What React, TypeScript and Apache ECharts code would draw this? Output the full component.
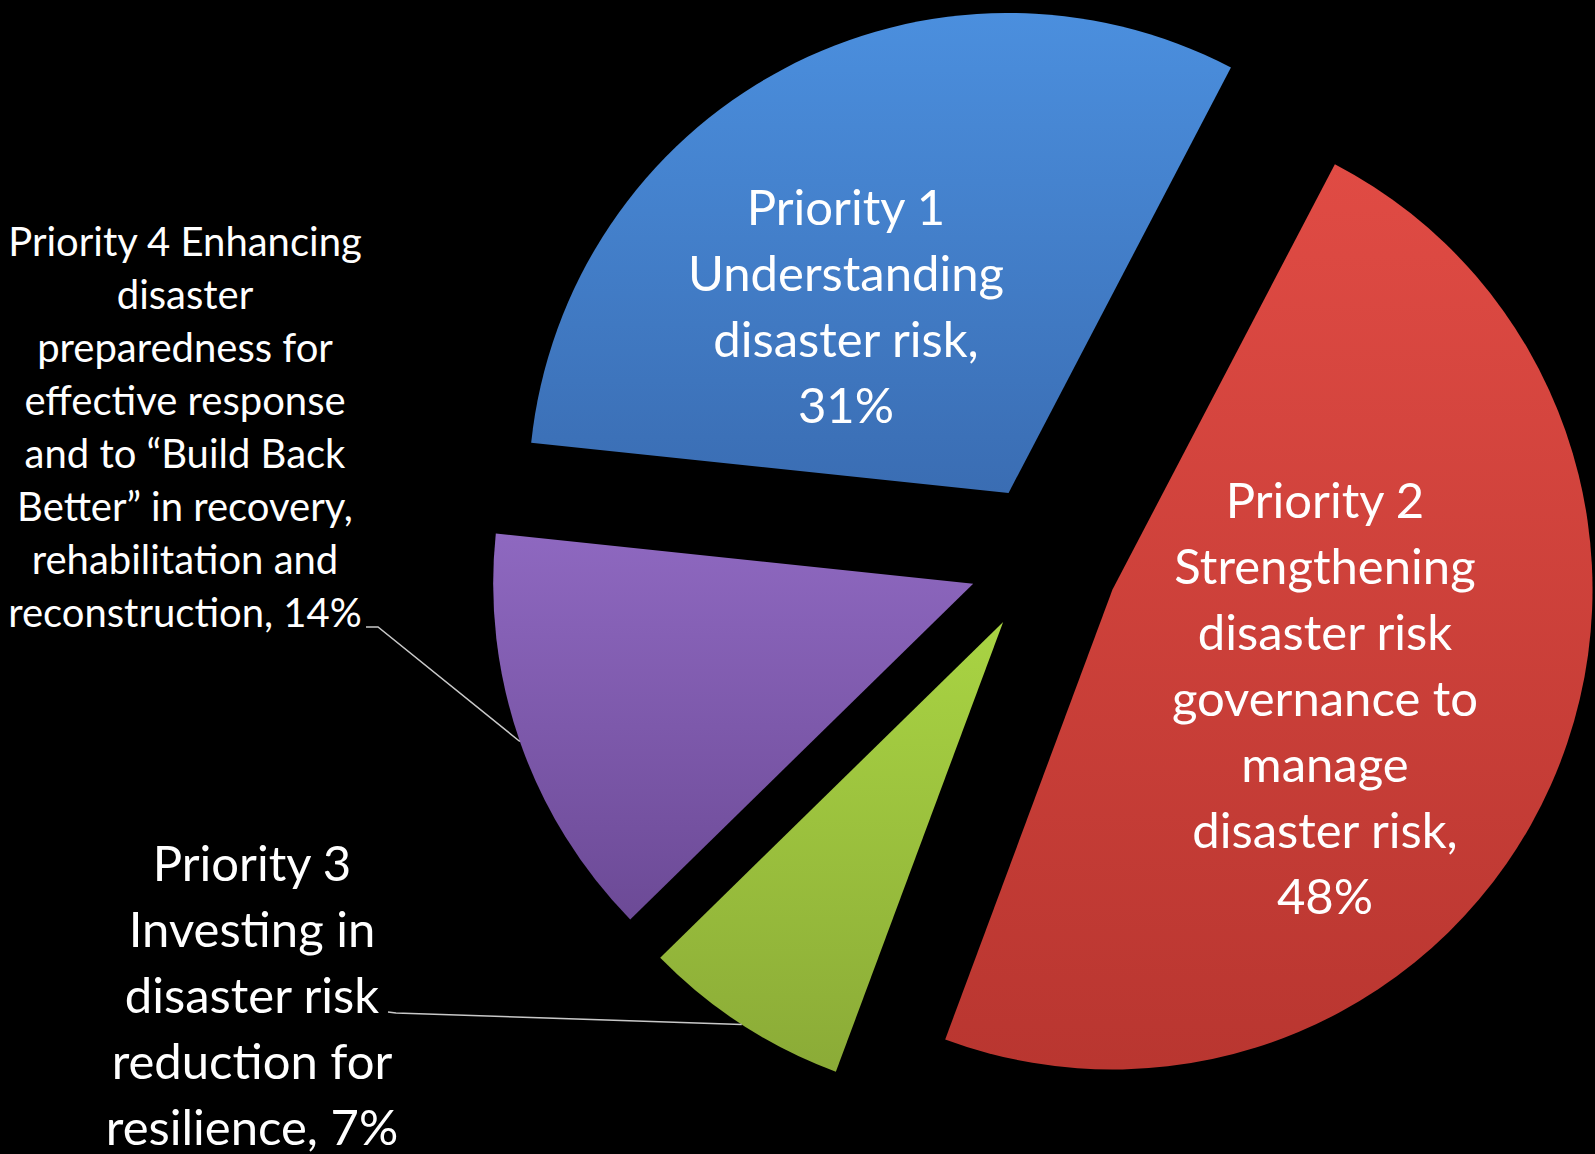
import React, { useEffect, useRef } from "react";
import * as echarts from "echarts";

// ---- data ----
const categories = [
  "Priority 1 Understanding disaster risk",
  "Priority 2 Strengthening disaster risk governance to manage disaster risk",
  "Priority 3 Investing in disaster risk reduction for resilience",
  "Priority 4 Enhancing disaster preparedness for effective response and to “Build Back Better” in recovery, rehabilitation and reconstruction",
];
const values = [31, 48, 7, 14];
// wrapped label lines; {pct} is replaced by the percentage
const labelLines = [
  ["Priority 1", "Understanding", "disaster risk,", "{pct}"],
  ["Priority 2", "Strengthening", "disaster risk", "governance to", "manage", "disaster risk,", "{pct}"],
  ["Priority 3", "Investing in", "disaster risk", "reduction for", "resilience, {pct}"],
  [
    "Priority 4 Enhancing",
    "disaster",
    "preparedness for",
    "effective response",
    "and to “Build Back",
    "Better” in recovery,",
    "rehabilitation and",
    "reconstruction, {pct}",
  ],
];
const colorStops = [
  ["#4b8fde", "#3a6db3"],
  ["#e04b44", "#b93630"],
  ["#a9d443", "#8bab37"],
  ["#8e68c0", "#6c4a96"],
];

// ---- layout ----
const CX = 1044;
const CY = 559;
const R = 480;
const OFFSET = 75;
const START = 174;
const FONT = "Lato, 'Open Sans', sans-serif";
const labelPos = [
  { x: 846, y: 305, size: 49, lh: 66 },
  { x: 1325, y: 697, size: 49, lh: 66 },
  { x: 252, y: 994, size: 49, lh: 66 },
  { x: 185, y: 426, size: 40, lh: 53 },
];
// leader line bends (label side) for the outside labels
const leaderEnds: Record<number, number[][]> = {
  2: [
    [396, 1013],
    [388, 1012],
  ],
  3: [
    [378, 627],
    [366, 627],
  ],
};

function edgePoint(i: number) {
  const total = values.reduce((a, b) => a + b, 0);
  let cum = 0;
  for (let k = 0; k < i; k++) cum += values[k];
  const mid = ((START - (360 * (cum + values[i] / 2)) / total) * Math.PI) / 180;
  return [CX + Math.cos(mid) * (R + OFFSET), CY - Math.sin(mid) * (R + OFFSET)];
}

export default function App() {
  const ref = useRef<HTMLDivElement>(null);
  useEffect(() => {
    if (!ref.current) return;
    const chart = echarts.init(ref.current, undefined, { renderer: "svg" });
    const total = values.reduce((a, b) => a + b, 0);
    const data = values.map((v, i) => ({
      value: v,
      name: categories[i],
      selected: true,
      itemStyle: {
        color: new echarts.graphic.LinearGradient(0, 0, 0, 1, [
          { offset: 0, color: colorStops[i][0] },
          { offset: 1, color: colorStops[i][1] },
        ]),
      },
    }));
    const texts = values.map((v, i) => ({
      type: "text",
      x: labelPos[i].x,
      y: labelPos[i].y,
      silent: true,
      z: 10,
      style: {
        text: labelLines[i].join("\n").replace("{pct}", `${Math.round((v / total) * 100)}%`),
        fill: "#ffffff",
        fontFamily: FONT,
        fontSize: labelPos[i].size,
        lineHeight: labelPos[i].lh,
        textAlign: "center",
        textVerticalAlign: "middle",
      },
    }));
    const lines = Object.keys(leaderEnds).map((k) => {
      const i = Number(k);
      return {
        type: "polyline",
        silent: true,
        z: 9,
        shape: { points: [edgePoint(i), ...leaderEnds[i]] },
        style: { stroke: "#c8c8c8", lineWidth: 1.5, fill: "none" },
      };
    });
    chart.setOption({
      animation: false,
      backgroundColor: "#000000",
      graphic: [...lines, ...texts],
      series: [
        {
          type: "pie",
          center: [CX, CY],
          radius: R,
          startAngle: START,
          clockwise: true,
          selectedMode: "multiple",
          selectedOffset: OFFSET,
          silent: true,
          emphasis: { disabled: true },
          itemStyle: { borderWidth: 0 },
          label: { show: false },
          labelLine: { show: false },
          data,
        },
      ],
    });
    return () => chart.dispose();
  }, []);
  return (
    <div
      ref={ref}
      style={{
        position: "fixed",
        left: 0,
        top: 0,
        width: 1595,
        height: 1154,
        background: "#000",
      }}
    />
  );
}
